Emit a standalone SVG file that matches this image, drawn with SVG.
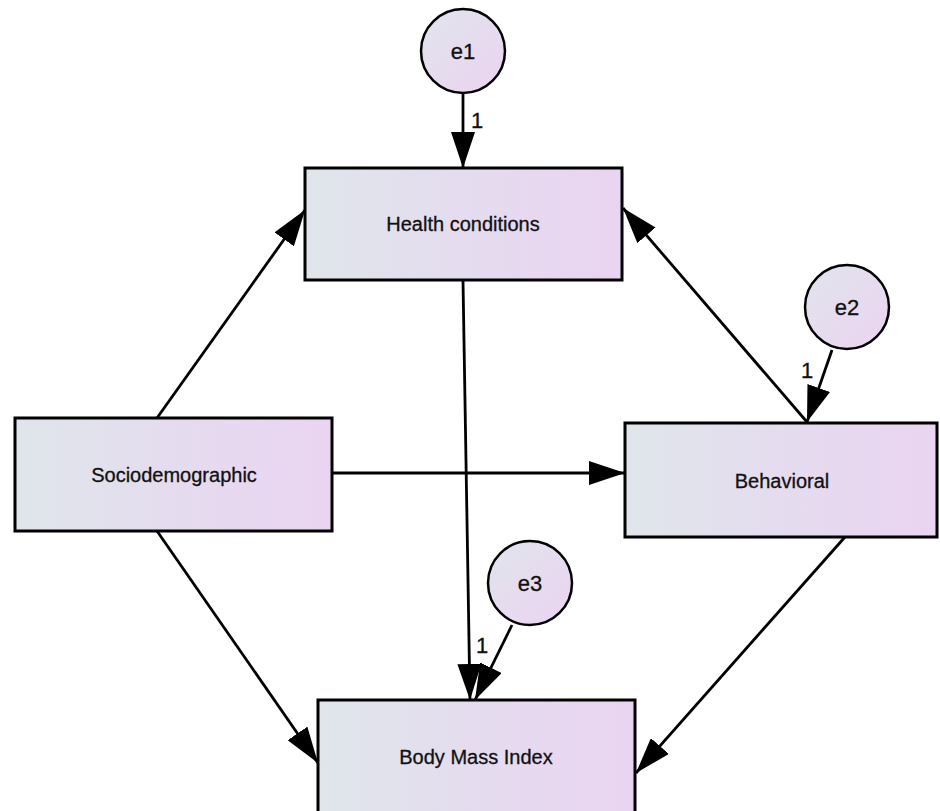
<svg xmlns="http://www.w3.org/2000/svg" width="940" height="811" viewBox="0 0 940 811">
<defs>
<linearGradient id="gBox" x1="0" y1="0" x2="1" y2="0">
<stop offset="0" stop-color="#dfe6ea"/>
<stop offset="0.5" stop-color="#e5dcef"/>
<stop offset="1" stop-color="#ead4f1"/>
</linearGradient>
<linearGradient id="gCirc" x1="0" y1="0" x2="1" y2="1">
<stop offset="0" stop-color="#e0e5ec"/>
<stop offset="1" stop-color="#ecd3f1"/>
</linearGradient>
<marker id="arr" markerUnits="userSpaceOnUse" markerWidth="38" markerHeight="24" refX="36" refY="12" orient="auto">
<path d="M0,0 L36,12 L0,24 z" fill="#000"/>
</marker>
<style>
.box{fill:url(#gBox);stroke:#000;stroke-width:3}
.circ{fill:url(#gCirc);stroke:#000;stroke-width:2.5}
.lbl{font-family:"Liberation Sans",Arial,sans-serif;font-size:20px;fill:#111;stroke:#111;stroke-width:0.3;text-anchor:middle}
.elbl{font-family:"Liberation Sans",Arial,sans-serif;font-size:22px;fill:#111;stroke:#111;stroke-width:0.3;text-anchor:middle}
.one{font-family:"Liberation Sans",Arial,sans-serif;font-size:22px;fill:#111;stroke:#111;stroke-width:0.3;text-anchor:middle}
.con{stroke:#000;stroke-width:2.8;fill:none;marker-end:url(#arr)}
</style>
</defs>
<rect width="940" height="811" fill="#fff"/>
<g id="connectors">
<line class="con" x1="463" y1="93" x2="463" y2="168"/>
<line class="con" x1="157" y1="418" x2="305" y2="210"/>
<line class="con" x1="807" y1="422" x2="623" y2="208"/>
<line class="con" x1="832" y1="350" x2="807" y2="422"/>
<line class="con" x1="332" y1="473" x2="625" y2="473"/>
<line class="con" x1="463" y1="281" x2="470" y2="700"/>
<line class="con" x1="512" y1="625" x2="475" y2="700"/>
<line class="con" x1="157" y1="531" x2="318" y2="763"/>
<line class="con" x1="845" y1="537" x2="636" y2="773"/>
<text class="one" x="477" y="128">1</text>
<text class="one" x="807" y="378">1</text>
<text class="one" x="482" y="653">1</text>
</g>
<g id="e1">
<circle class="circ" cx="463" cy="51" r="42"/>
<text class="elbl" x="463" y="59">e1</text>
</g>
<g id="health">
<rect class="box" x="305" y="168" width="317" height="112"/>
<text class="lbl" x="463" y="231">Health conditions</text>
</g>
<g id="e2">
<circle class="circ" cx="847" cy="307" r="42"/>
<text class="elbl" x="847" y="315">e2</text>
</g>
<g id="socio">
<rect class="box" x="15" y="418" width="317" height="113"/>
<text class="lbl" x="174" y="482">Sociodemographic</text>
</g>
<g id="behavioral">
<rect class="box" x="625" y="423" width="312" height="114"/>
<text class="lbl" x="782" y="488">Behavioral</text>
</g>
<g id="e3">
<circle class="circ" cx="530" cy="583" r="42"/>
<text class="elbl" x="530" y="591">e3</text>
</g>
<g id="bmi">
<rect class="box" x="318" y="700" width="317" height="115"/>
<text class="lbl" x="476" y="764">Body Mass Index</text>
</g>
</svg>
